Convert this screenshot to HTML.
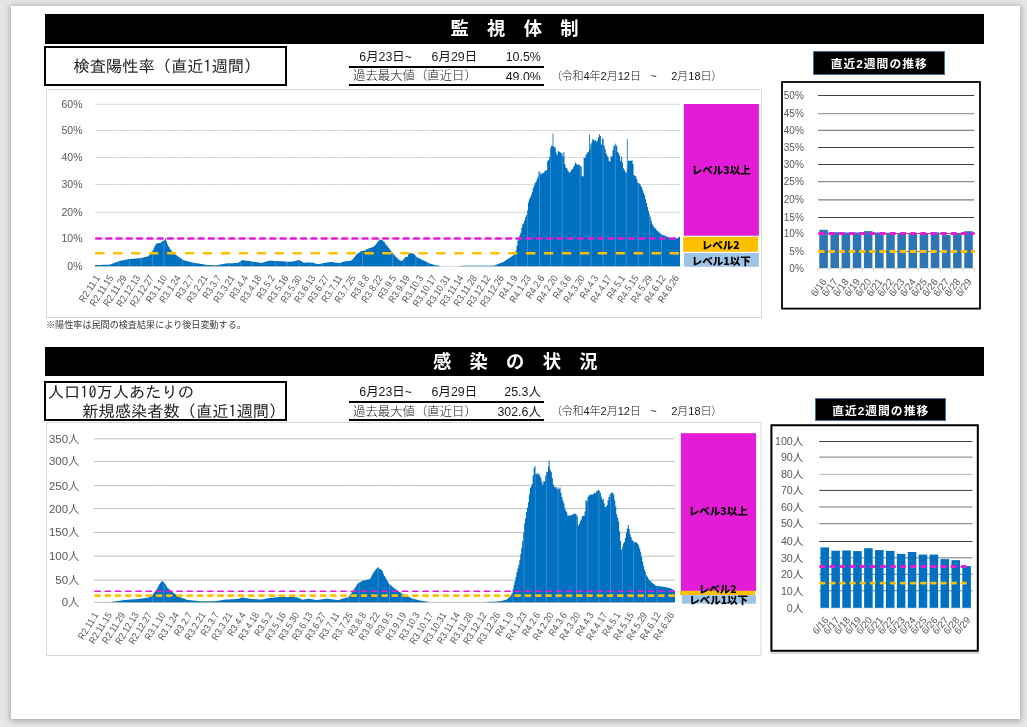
<!DOCTYPE html>
<html lang="ja"><head><meta charset="utf-8"><title>監視体制・感染の状況</title>
<style>
html,body{margin:0;padding:0}
body{width:1027px;height:727px;overflow:hidden;background:#e6e6e6;position:relative;font-family:"Liberation Sans","Noto Sans CJK JP",sans-serif;color:#000}
#page{position:absolute;left:11px;top:6px;width:1009px;height:713px;background:#fff;box-shadow:0 1px 6px 1px rgba(0,0,0,.28)}
.bar{position:absolute;left:45px;width:939px;height:30px;background:#000;color:#fff;font-weight:bold;font-size:18.3px;text-align:center;line-height:30px;white-space:pre}
.box{position:absolute;left:44px;width:239px;border:2px solid #000;box-sizing:content-box;background:#fff;font-family:"IPAGothic","Noto Sans CJK JP",sans-serif;font-size:16.25px;color:#222;white-space:pre}
.t{position:absolute;font-size:12.4px;line-height:14px;white-space:pre;color:#1a1a1a}
.p{font-size:11px;font-feature-settings:'palt' 1;font-weight:300}
.w3{font-weight:300}
.hl{position:absolute;left:348.5px;width:195.5px;height:2px;background:#000}
.lab{position:absolute;background:#000;color:#fff;font-weight:bold;font-size:11.8px;letter-spacing:1px;text-indent:1px;text-align:center;border:1px solid #41719c;box-sizing:border-box;white-space:pre}
.note{position:absolute;left:46px;top:318.5px;font-size:9.1px;line-height:13px;color:#3a3a3a;white-space:pre}
</style></head><body>
<div id="page"></div>
<div class="bar" style="top:14px">監　視　体　制</div>
<div class="bar" style="top:347px;height:29px;line-height:30.5px;text-indent:1.5px">感　染　の　状　況</div>
<svg width="1027" height="727" viewBox="0 0 1027 727" style="position:absolute;left:0;top:0" font-family="'Liberation Sans', 'Noto Sans CJK JP', sans-serif">
<rect x="46.5" y="89.5" width="715" height="228" fill="#fff" stroke="#d9d9d9" stroke-width="1"/>
<line x1="95" x2="680" y1="104.3" y2="104.3" stroke="#d9d9d9" stroke-width="1"/>
<text x="82.5" y="108.1" font-size="10.5" fill="#595959" text-anchor="end">60%</text>
<line x1="95" x2="680" y1="130.5" y2="130.5" stroke="#d9d9d9" stroke-width="1"/>
<text x="82.5" y="134.3" font-size="10.5" fill="#595959" text-anchor="end">50%</text>
<line x1="95" x2="680" y1="157.5" y2="157.5" stroke="#d9d9d9" stroke-width="1"/>
<text x="82.5" y="161.3" font-size="10.5" fill="#595959" text-anchor="end">40%</text>
<line x1="95" x2="680" y1="184.5" y2="184.5" stroke="#d9d9d9" stroke-width="1"/>
<text x="82.5" y="188.3" font-size="10.5" fill="#595959" text-anchor="end">30%</text>
<line x1="95" x2="680" y1="212.2" y2="212.2" stroke="#d9d9d9" stroke-width="1"/>
<text x="82.5" y="216.0" font-size="10.5" fill="#595959" text-anchor="end">20%</text>
<line x1="95" x2="680" y1="238.6" y2="238.6" stroke="#d9d9d9" stroke-width="1"/>
<text x="82.5" y="242.4" font-size="10.5" fill="#595959" text-anchor="end">10%</text>
<line x1="95" x2="680" y1="266.3" y2="266.3" stroke="#d9d9d9" stroke-width="1"/>
<text x="82.5" y="270.1" font-size="10.5" fill="#595959" text-anchor="end">0%</text>
<path d="M95.00,266.30V265.02H95.96V265.00H96.92V264.98H97.88V264.96H98.84V264.95H99.80V264.93H100.76V264.91H101.72V264.89H102.68V264.87H103.64V264.85H104.60V264.83H105.56V264.81H106.52V264.79H107.48V264.77H108.44V264.75H109.40V264.59H110.36V264.22H111.32V263.86H112.28V263.49H113.24V263.13H114.20V262.76H115.16V262.40H116.12V262.03H117.08V261.67H118.04V261.30H119.00V260.99H119.96V260.80H120.92V260.60H121.88V260.41H122.84V260.22H123.80V260.03H124.76V259.84H125.72V259.64H126.68V259.45H127.64V259.26H128.60V259.08H129.56V259.00H130.52V258.92H131.48V258.84H132.44V258.76H133.40V258.68H134.36V258.60H135.32V258.52H136.28V258.44H137.24V258.36H138.20V258.28H139.16V258.20H140.12V258.12H141.08V257.89H142.04V257.65H143.00V257.41H143.96V257.17H144.92V256.93H145.88V256.69H146.84V256.45H147.80V256.21H148.76V255.15H149.72V254.00H150.68V252.87H151.64V251.50H152.60V249.95H153.56V247.84H154.52V246.01H155.48V244.26H156.44V243.37H157.40V243.44H158.36V243.03H159.32V243.04H160.28V242.84H161.24V242.03H162.20V240.95H163.16V240.55H164.12V239.66H165.08V238.56H166.04V241.18H167.00V244.21H167.96V246.33H168.92V247.51H169.88V249.34H170.84V250.46H171.80V251.79H172.76V252.63H173.72V253.43H174.68V254.17H175.64V254.91H176.60V255.71H177.56V256.44H178.52V257.08H179.48V257.72H180.44V258.36H181.40V259.00H182.36V259.64H183.32V260.15H184.28V260.40H185.24V260.65H186.20V260.90H187.16V261.15H188.12V261.40H189.08V261.65H190.04V261.90H191.00V262.15H191.96V262.40H192.92V262.63H193.88V262.80H194.84V262.96H195.80V263.13H196.76V263.29H197.72V263.45H198.68V263.62H199.64V263.78H200.60V263.95H201.56V264.11H202.52V264.28H203.48V264.44H204.44V264.61H205.40V264.77H206.36V264.94H207.32V264.97H208.28V265.01H209.24V265.05H210.20V265.09H211.16V265.13H212.12V265.17H213.08V265.21H214.04V265.24H215.00V265.28H215.96V265.32H216.92V265.16H217.88V264.97H218.84V264.78H219.80V264.59H220.76V264.39H221.72V264.20H222.68V264.01H223.64V263.82H224.60V263.63H225.56V263.43H226.52V263.36H227.48V263.32H228.44V263.29H229.40V263.26H230.36V263.23H231.32V263.20H232.28V263.16H233.24V263.13H234.20V263.10H235.16V263.07H236.12V263.04H237.08V263.00H238.04V262.60H239.00V261.88H239.96V261.16H240.92V260.44H241.88V260.13H242.84V260.27H243.80V260.40H244.76V260.54H245.72V260.67H246.68V260.80H247.64V260.94H248.60V261.07H249.56V261.21H250.52V261.34H251.48V261.48H252.44V261.64H253.40V261.79H254.36V261.94H255.32V262.10H256.28V262.25H257.24V262.40H258.20V262.56H259.16V262.71H260.12V262.87H261.08V262.93H262.04V262.65H263.00V262.36H263.96V262.07H264.92V261.78H265.88V261.49H266.84V261.21H267.80V260.92H268.76V260.66H269.72V260.70H270.68V260.75H271.64V260.80H272.60V260.85H273.56V260.90H274.52V260.94H275.48V260.99H276.44V261.04H277.40V261.09H278.36V261.14H279.32V261.18H280.28V261.23H281.24V261.28H282.20V261.33H283.16V261.38H284.12V261.42H285.08V261.61H286.04V261.80H287.00V261.77H287.96V261.73H288.92V261.70H289.88V261.67H290.84V261.64H291.80V261.61H292.76V261.48H293.72V261.23H294.68V260.97H295.64V260.72H296.60V260.46H297.56V260.20H298.52V259.95H299.48V260.32H300.44V260.94H301.40V261.56H302.36V262.19H303.32V262.65H304.28V262.63H305.24V262.60H306.20V262.58H307.16V262.56H308.12V262.53H309.08V262.51H310.04V262.48H311.00V262.46H311.96V262.54H312.92V262.85H313.88V263.16H314.84V263.46H315.80V263.77H316.76V264.08H317.72V264.04H318.68V263.88H319.64V263.72H320.60V263.55H321.56V263.39H322.52V263.23H323.48V263.07H324.44V262.91H325.40V262.75H326.36V262.59H327.32V262.43H328.28V262.26H329.24V262.10H330.20V261.94H331.16V261.95H332.12V262.15H333.08V262.34H334.04V262.53H335.00V262.64H335.96V262.74H336.92V262.83H337.88V262.93H338.84V263.03H339.80V262.75H340.76V262.46H341.72V262.17H342.68V261.88H343.64V261.61H344.60V261.48H345.56V261.36H346.52V261.23H347.48V261.10H348.44V260.97H349.40V260.84H350.36V260.72H351.32V260.04H352.28V259.22H353.24V258.24H354.20V256.96H355.16V255.68H356.12V254.40H357.08V253.47H358.04V253.02H359.00V252.25H359.96V251.58H360.92V251.02H361.88V250.78H362.84V250.86H363.80V250.77H364.76V250.50H365.72V249.59H366.68V248.98H367.64V248.63H368.60V248.23H369.56V248.00H370.52V247.78H371.48V247.27H372.44V247.02H373.40V246.50H374.36V245.38H375.32V244.44H376.28V243.28H377.24V241.91H378.20V240.73H379.16V239.52H380.12V239.75H381.08V239.96H382.04V240.39H383.00V241.40H383.96V241.94H384.92V243.79H385.88V244.94H386.84V246.10H387.80V247.39H388.76V248.53H389.72V250.04H390.68V251.18H391.64V252.47H392.60V253.59H393.56V254.74H394.52V255.86H395.48V256.89H396.44V257.85H397.40V258.81H398.36V259.77H399.32V260.32H400.28V260.82H401.24V261.32H402.20V260.31H403.16V259.05H404.12V257.78H405.08V257.32H406.04V257.05H407.00V256.78H407.96V252.22H408.92V252.78H409.88V252.88H410.84V253.16H411.80V253.33H412.76V253.85H413.72V254.06H414.68V255.32H415.64V256.52H416.60V257.26H417.56V257.74H418.52V258.22H419.48V258.70H420.44V259.18H421.40V259.66H422.36V260.14H423.32V260.62H424.28V261.10H425.24V261.58H426.20V262.06H427.16V262.54H428.12V263.02H429.08V263.45H430.04V263.74H431.00V264.03H431.96V264.31H432.92V264.60H433.88V264.89H434.84V265.16H435.80V265.31H436.76V265.46H437.72V265.62H438.68V265.77H439.64V265.92H440.60V266.30H441.56V266.30H442.52V266.30H443.48V266.30H444.44V266.30H445.40V266.30H446.36V266.30H447.32V266.30H448.28V266.30H449.24V266.30H450.20V266.30H451.16V266.30H452.12V266.30H453.08V266.30H454.04V266.30H455.00V266.30H455.96V266.30H456.92V266.30H457.88V266.30H458.84V265.95H459.80V265.92H460.76V265.89H461.72V265.87H462.68V265.87H463.64V265.87H464.60V265.87H465.56V265.87H466.52V265.87H467.48V265.87H468.44V265.87H469.40V265.87H470.36V265.87H471.32V265.87H472.28V265.87H473.24V265.87H474.20V265.87H475.16V265.87H476.12V265.87H477.08V265.87H478.04V265.87H479.00V265.87H479.96V265.87H480.92V265.87H481.88V265.87H482.84V265.87H483.80V265.87H484.76V265.87H485.72V265.87H486.68V265.87H487.64V265.87H488.60V265.87H489.56V265.87H490.52V265.82H491.48V265.77H492.44V265.72H493.40V265.67H494.36V265.37H495.32V264.92H496.28V264.49H497.24V264.13H498.20V263.77H499.16V263.41H500.12V263.05H501.08V262.69H502.04V262.33H503.00V261.89H503.96V261.25H504.92V260.61H505.88V259.97H506.84V259.33H507.80V258.69H508.76V258.05H509.72V257.41H510.68V256.77H511.64V256.13H512.60V255.48H513.56V254.52H514.52V253.52H515.48V250.77H516.44V245.72H517.40V240.74H518.36V237.86H519.32V235.19H520.28V232.82H521.24V227.98H522.20V224.52H523.16V223.15H524.12V220.58H525.08V216.96H526.04V215.33H527.00V210.14H527.96V202.41H528.92V199.25H529.88V197.22H530.84V194.69H531.80V192.23H532.76V188.09H533.72V185.41H534.68V183.00H535.64V181.87H536.60V179.35H537.56V176.64H538.52V171.30H539.48V172.25H540.44V174.41H541.40V173.54H542.36V173.10H543.32V172.77H544.28V171.21H545.24V170.37H546.20V170.38H547.16V161.20H548.12V159.90H549.08V156.64H550.04V148.05H551.00V145.74H551.96V145.70H552.92V146.58H553.88V147.07H554.84V147.84H555.80V152.67H556.76V155.20H557.72V150.66H558.68V151.84H559.64V152.05H560.60V153.16H561.56V153.24H562.52V155.94H563.48V152.04H564.44V163.89H565.40V167.58H566.36V167.94H567.32V170.14H568.28V171.83H569.24V172.73H570.20V171.43H571.16V169.83H572.12V169.00H573.08V167.06H574.04V165.34H575.00V162.55H575.96V163.68H576.92V164.97H577.88V164.47H578.84V164.57H579.80V166.13H580.76V166.19H581.72V175.99H582.68V176.54H583.64V157.77H584.60V158.02H585.56V155.00H586.52V153.35H587.48V151.92H588.44V151.37H589.40V149.00H590.36V144.15H591.32V142.11H592.28V138.87H593.24V139.72H594.20V140.64H595.16V140.08H596.12V141.91H597.08V140.39H598.04V137.31H599.00V134.33H599.96V135.97H600.92V144.48H601.88V138.36H602.84V139.37H603.80V145.40H604.76V149.20H605.72V153.34H606.68V155.38H607.64V156.89H608.60V160.67H609.56V161.77H610.52V156.42H611.48V156.22H612.44V149.97H613.40V146.13H614.36V144.77H615.32V143.39H616.28V146.07H617.24V151.85H618.20V153.28H619.16V155.57H620.12V161.03H621.08V156.64H622.04V162.67H623.00V168.21H623.96V169.96H624.92V171.76H625.88V172.64H626.84V168.98H627.80V160.76H628.76V160.75H629.72V160.82H630.68V160.81H631.64V160.22H632.60V163.98H633.56V174.96H634.52V176.14H635.48V176.17H636.44V179.28H637.40V182.66H638.36V182.94H639.32V183.90H640.28V185.60H641.24V187.35H642.20V189.78H643.16V192.74H644.12V195.04H645.08V199.36H646.04V202.96H647.00V206.98H647.96V210.67H648.92V213.53H649.88V216.63H650.84V220.76H651.80V223.78H652.76V225.80H653.72V227.60H654.68V228.01H655.64V229.21H656.60V230.84H657.56V231.22H658.52V232.06H659.48V233.21H660.44V233.93H661.40V234.25H662.36V235.05H663.32V235.61H664.28V235.39H665.24V236.10H666.20V236.67H667.16V236.87H668.12V237.60H669.08V237.62H670.04V237.98H671.00V238.62H671.96V238.67H672.92V238.72H673.88V238.83H674.84V238.68H675.80V238.97H676.76V238.20H677.72V237.73H678.68V236.78H679.64V236.92H680.00V266.30Z" fill="#0070c0"/>
<rect x="552.5" y="133.4" width="1" height="40" fill="#0070c0" fill-opacity="0.8"/>
<rect x="589" y="134.4" width="1" height="40" fill="#0070c0" fill-opacity="0.8"/>
<rect x="626.8" y="139" width="1" height="40" fill="#0070c0" fill-opacity="0.8"/>
<line x1="118.8" x2="118.8" y1="120" y2="266.3" stroke="#fff" stroke-opacity="0.28" stroke-width="0.8"/>
<line x1="129.5" x2="129.5" y1="120" y2="266.3" stroke="#fff" stroke-opacity="0.28" stroke-width="0.8"/>
<line x1="141.2" x2="141.2" y1="120" y2="266.3" stroke="#fff" stroke-opacity="0.28" stroke-width="0.8"/>
<line x1="152.7" x2="152.7" y1="120" y2="266.3" stroke="#fff" stroke-opacity="0.28" stroke-width="0.8"/>
<line x1="164" x2="164" y1="120" y2="266.3" stroke="#fff" stroke-opacity="0.28" stroke-width="0.8"/>
<line x1="182.5" x2="182.5" y1="120" y2="266.3" stroke="#fff" stroke-opacity="0.28" stroke-width="0.8"/>
<line x1="194" x2="194" y1="120" y2="266.3" stroke="#fff" stroke-opacity="0.28" stroke-width="0.8"/>
<line x1="205.7" x2="205.7" y1="120" y2="266.3" stroke="#fff" stroke-opacity="0.28" stroke-width="0.8"/>
<line x1="217.3" x2="217.3" y1="120" y2="266.3" stroke="#fff" stroke-opacity="0.28" stroke-width="0.8"/>
<line x1="229" x2="229" y1="120" y2="266.3" stroke="#fff" stroke-opacity="0.28" stroke-width="0.8"/>
<line x1="240.7" x2="240.7" y1="120" y2="266.3" stroke="#fff" stroke-opacity="0.28" stroke-width="0.8"/>
<line x1="252.3" x2="252.3" y1="120" y2="266.3" stroke="#fff" stroke-opacity="0.28" stroke-width="0.8"/>
<line x1="264" x2="264" y1="120" y2="266.3" stroke="#fff" stroke-opacity="0.28" stroke-width="0.8"/>
<line x1="275.7" x2="275.7" y1="120" y2="266.3" stroke="#fff" stroke-opacity="0.28" stroke-width="0.8"/>
<line x1="287.3" x2="287.3" y1="120" y2="266.3" stroke="#fff" stroke-opacity="0.28" stroke-width="0.8"/>
<line x1="299" x2="299" y1="120" y2="266.3" stroke="#fff" stroke-opacity="0.28" stroke-width="0.8"/>
<line x1="310.7" x2="310.7" y1="120" y2="266.3" stroke="#fff" stroke-opacity="0.28" stroke-width="0.8"/>
<line x1="322.3" x2="322.3" y1="120" y2="266.3" stroke="#fff" stroke-opacity="0.28" stroke-width="0.8"/>
<line x1="339.3" x2="339.3" y1="120" y2="266.3" stroke="#fff" stroke-opacity="0.28" stroke-width="0.8"/>
<line x1="362.5" x2="362.5" y1="120" y2="266.3" stroke="#fff" stroke-opacity="0.28" stroke-width="0.8"/>
<line x1="392.5" x2="392.5" y1="120" y2="266.3" stroke="#fff" stroke-opacity="0.28" stroke-width="0.8"/>
<line x1="404.2" x2="404.2" y1="120" y2="266.3" stroke="#fff" stroke-opacity="0.28" stroke-width="0.8"/>
<line x1="415.9" x2="415.9" y1="120" y2="266.3" stroke="#fff" stroke-opacity="0.28" stroke-width="0.8"/>
<line x1="427.6" x2="427.6" y1="120" y2="266.3" stroke="#fff" stroke-opacity="0.28" stroke-width="0.8"/>
<line x1="515.8" x2="515.8" y1="120" y2="266.3" stroke="#fff" stroke-opacity="0.28" stroke-width="0.8"/>
<line x1="527.6" x2="527.6" y1="120" y2="266.3" stroke="#fff" stroke-opacity="0.28" stroke-width="0.8"/>
<line x1="539.5" x2="539.5" y1="120" y2="266.3" stroke="#fff" stroke-opacity="0.28" stroke-width="0.8"/>
<line x1="550.5" x2="550.5" y1="120" y2="266.3" stroke="#fff" stroke-opacity="0.28" stroke-width="0.8"/>
<line x1="562.2" x2="562.2" y1="120" y2="266.3" stroke="#fff" stroke-opacity="0.28" stroke-width="0.8"/>
<line x1="580.2" x2="580.2" y1="120" y2="266.3" stroke="#fff" stroke-opacity="0.28" stroke-width="0.8"/>
<line x1="591.1" x2="591.1" y1="120" y2="266.3" stroke="#fff" stroke-opacity="0.28" stroke-width="0.8"/>
<line x1="603.1" x2="603.1" y1="120" y2="266.3" stroke="#fff" stroke-opacity="0.28" stroke-width="0.8"/>
<line x1="615.3" x2="615.3" y1="120" y2="266.3" stroke="#fff" stroke-opacity="0.28" stroke-width="0.8"/>
<line x1="626.2" x2="626.2" y1="120" y2="266.3" stroke="#fff" stroke-opacity="0.28" stroke-width="0.8"/>
<line x1="638.2" x2="638.2" y1="120" y2="266.3" stroke="#fff" stroke-opacity="0.28" stroke-width="0.8"/>
<line x1="649.6" x2="649.6" y1="120" y2="266.3" stroke="#fff" stroke-opacity="0.28" stroke-width="0.8"/>
<line x1="661.5" x2="661.5" y1="120" y2="266.3" stroke="#fff" stroke-opacity="0.28" stroke-width="0.8"/>
<line x1="96.25" x2="679" y1="238.5" y2="238.5" stroke="#e41bd7" stroke-width="2.7" stroke-linecap="round" stroke-dasharray="4.7 5.55"/>
<line x1="96.2" x2="678.5" y1="253.2" y2="253.2" stroke="#ffc000" stroke-width="2.6" stroke-linecap="round" stroke-dasharray="7.3 10.65"/>
<text transform="translate(100.30,277.9) rotate(-57) scale(0.89,1)" font-size="9.8" fill="#595959" text-anchor="end">R2.11.1</text>
<text transform="translate(113.77,277.9) rotate(-57) scale(0.89,1)" font-size="9.8" fill="#595959" text-anchor="end">R2.11.15</text>
<text transform="translate(127.24,277.9) rotate(-57) scale(0.89,1)" font-size="9.8" fill="#595959" text-anchor="end">R2.11.29</text>
<text transform="translate(140.71,277.9) rotate(-57) scale(0.89,1)" font-size="9.8" fill="#595959" text-anchor="end">R2.12.13</text>
<text transform="translate(154.18,277.9) rotate(-57) scale(0.89,1)" font-size="9.8" fill="#595959" text-anchor="end">R2.12.27</text>
<text transform="translate(167.65,277.9) rotate(-57) scale(0.89,1)" font-size="9.8" fill="#595959" text-anchor="end">R3.1.10</text>
<text transform="translate(181.12,277.9) rotate(-57) scale(0.89,1)" font-size="9.8" fill="#595959" text-anchor="end">R3.1.24</text>
<text transform="translate(194.59,277.9) rotate(-57) scale(0.89,1)" font-size="9.8" fill="#595959" text-anchor="end">R3.2.7</text>
<text transform="translate(208.06,277.9) rotate(-57) scale(0.89,1)" font-size="9.8" fill="#595959" text-anchor="end">R3.2.21</text>
<text transform="translate(221.53,277.9) rotate(-57) scale(0.89,1)" font-size="9.8" fill="#595959" text-anchor="end">R3.3.7</text>
<text transform="translate(235.00,277.9) rotate(-57) scale(0.89,1)" font-size="9.8" fill="#595959" text-anchor="end">R3.3.21</text>
<text transform="translate(248.47,277.9) rotate(-57) scale(0.89,1)" font-size="9.8" fill="#595959" text-anchor="end">R3.4.4</text>
<text transform="translate(261.94,277.9) rotate(-57) scale(0.89,1)" font-size="9.8" fill="#595959" text-anchor="end">R3.4.18</text>
<text transform="translate(275.41,277.9) rotate(-57) scale(0.89,1)" font-size="9.8" fill="#595959" text-anchor="end">R3.5.2</text>
<text transform="translate(288.88,277.9) rotate(-57) scale(0.89,1)" font-size="9.8" fill="#595959" text-anchor="end">R3.5.16</text>
<text transform="translate(302.35,277.9) rotate(-57) scale(0.89,1)" font-size="9.8" fill="#595959" text-anchor="end">R3.5.30</text>
<text transform="translate(315.82,277.9) rotate(-57) scale(0.89,1)" font-size="9.8" fill="#595959" text-anchor="end">R3.6.13</text>
<text transform="translate(329.29,277.9) rotate(-57) scale(0.89,1)" font-size="9.8" fill="#595959" text-anchor="end">R3.6.27</text>
<text transform="translate(342.76,277.9) rotate(-57) scale(0.89,1)" font-size="9.8" fill="#595959" text-anchor="end">R3.7.11</text>
<text transform="translate(356.23,277.9) rotate(-57) scale(0.89,1)" font-size="9.8" fill="#595959" text-anchor="end">R3.7.25</text>
<text transform="translate(369.70,277.9) rotate(-57) scale(0.89,1)" font-size="9.8" fill="#595959" text-anchor="end">R3.8.8</text>
<text transform="translate(383.17,277.9) rotate(-57) scale(0.89,1)" font-size="9.8" fill="#595959" text-anchor="end">R3.8.22</text>
<text transform="translate(396.64,277.9) rotate(-57) scale(0.89,1)" font-size="9.8" fill="#595959" text-anchor="end">R3.9.5</text>
<text transform="translate(410.11,277.9) rotate(-57) scale(0.89,1)" font-size="9.8" fill="#595959" text-anchor="end">R3.9.19</text>
<text transform="translate(423.58,277.9) rotate(-57) scale(0.89,1)" font-size="9.8" fill="#595959" text-anchor="end">R3.10.3</text>
<text transform="translate(437.05,277.9) rotate(-57) scale(0.89,1)" font-size="9.8" fill="#595959" text-anchor="end">R3.10.17</text>
<text transform="translate(450.52,277.9) rotate(-57) scale(0.89,1)" font-size="9.8" fill="#595959" text-anchor="end">R3.10.31</text>
<text transform="translate(463.99,277.9) rotate(-57) scale(0.89,1)" font-size="9.8" fill="#595959" text-anchor="end">R3.11.14</text>
<text transform="translate(477.46,277.9) rotate(-57) scale(0.89,1)" font-size="9.8" fill="#595959" text-anchor="end">R3.11.28</text>
<text transform="translate(490.93,277.9) rotate(-57) scale(0.89,1)" font-size="9.8" fill="#595959" text-anchor="end">R3.12.12</text>
<text transform="translate(504.40,277.9) rotate(-57) scale(0.89,1)" font-size="9.8" fill="#595959" text-anchor="end">R3.12.26</text>
<text transform="translate(517.87,277.9) rotate(-57) scale(0.89,1)" font-size="9.8" fill="#595959" text-anchor="end">R4.1.9</text>
<text transform="translate(531.34,277.9) rotate(-57) scale(0.89,1)" font-size="9.8" fill="#595959" text-anchor="end">R4.1.23</text>
<text transform="translate(544.81,277.9) rotate(-57) scale(0.89,1)" font-size="9.8" fill="#595959" text-anchor="end">R4.2.6</text>
<text transform="translate(558.28,277.9) rotate(-57) scale(0.89,1)" font-size="9.8" fill="#595959" text-anchor="end">R4.2.20</text>
<text transform="translate(571.75,277.9) rotate(-57) scale(0.89,1)" font-size="9.8" fill="#595959" text-anchor="end">R4.3.6</text>
<text transform="translate(585.22,277.9) rotate(-57) scale(0.89,1)" font-size="9.8" fill="#595959" text-anchor="end">R4.3.20</text>
<text transform="translate(598.69,277.9) rotate(-57) scale(0.89,1)" font-size="9.8" fill="#595959" text-anchor="end">R4.4.3</text>
<text transform="translate(612.16,277.9) rotate(-57) scale(0.89,1)" font-size="9.8" fill="#595959" text-anchor="end">R4.4.17</text>
<text transform="translate(625.63,277.9) rotate(-57) scale(0.89,1)" font-size="9.8" fill="#595959" text-anchor="end">R4.5.1</text>
<text transform="translate(639.10,277.9) rotate(-57) scale(0.89,1)" font-size="9.8" fill="#595959" text-anchor="end">R4.5.15</text>
<text transform="translate(652.57,277.9) rotate(-57) scale(0.89,1)" font-size="9.8" fill="#595959" text-anchor="end">R4.5.29</text>
<text transform="translate(666.04,277.9) rotate(-57) scale(0.89,1)" font-size="9.8" fill="#595959" text-anchor="end">R4.6.12</text>
<text transform="translate(679.51,277.9) rotate(-57) scale(0.89,1)" font-size="9.8" fill="#595959" text-anchor="end">R4.6.26</text>
<rect x="683.9" y="104" width="75" height="131.7" fill="#e41bd7"/>
<rect x="683.1" y="236.8" width="75" height="15" fill="#ffc000"/>
<rect x="683.9" y="253.1" width="75" height="13.7" fill="#9dc3e6"/>
<text x="721.3" y="174" font-family="'Noto Sans CJK JP', sans-serif" font-weight="900" font-size="10.5" fill="#000" text-anchor="middle">レベル3以上</text>
<text x="720.8" y="248.9" font-family="'Noto Sans CJK JP', sans-serif" font-weight="900" font-size="10.5" fill="#000" text-anchor="middle">レベル2</text>
<text x="721.3" y="264.7" font-family="'Noto Sans CJK JP', sans-serif" font-weight="900" font-size="10.5" fill="#000" text-anchor="middle">レベル1以下</text>
<rect x="46.5" y="422.5" width="714.5" height="233" fill="#fff" stroke="#d9d9d9" stroke-width="1"/>
<line x1="94" x2="675" y1="438.8" y2="438.8" stroke="#bfbfbf" stroke-width="1"/>
<text x="79.6" y="442.8" font-size="11.5" fill="#595959" text-anchor="end">350人</text>
<line x1="94" x2="675" y1="461.4" y2="461.4" stroke="#bfbfbf" stroke-width="1"/>
<text x="79.6" y="465.4" font-size="11.5" fill="#595959" text-anchor="end">300人</text>
<line x1="94" x2="675" y1="485.6" y2="485.6" stroke="#bfbfbf" stroke-width="1"/>
<text x="79.6" y="489.6" font-size="11.5" fill="#595959" text-anchor="end">250人</text>
<line x1="94" x2="675" y1="508.6" y2="508.6" stroke="#bfbfbf" stroke-width="1"/>
<text x="79.6" y="512.6" font-size="11.5" fill="#595959" text-anchor="end">200人</text>
<line x1="94" x2="675" y1="532.4" y2="532.4" stroke="#bfbfbf" stroke-width="1"/>
<text x="79.6" y="536.4" font-size="11.5" fill="#595959" text-anchor="end">150人</text>
<line x1="94" x2="675" y1="556.2" y2="556.2" stroke="#bfbfbf" stroke-width="1"/>
<text x="79.6" y="560.2" font-size="11.5" fill="#595959" text-anchor="end">100人</text>
<line x1="94" x2="675" y1="580.2" y2="580.2" stroke="#bfbfbf" stroke-width="1"/>
<text x="79.6" y="584.2" font-size="11.5" fill="#595959" text-anchor="end">50人</text>
<line x1="94" x2="675" y1="602.3" y2="602.3" stroke="#bfbfbf" stroke-width="1"/>
<text x="79.6" y="606.3" font-size="11.5" fill="#595959" text-anchor="end">0人</text>
<path d="M94.00,602.30V602.30H94.96V602.30H95.92V602.30H96.88V602.30H97.84V602.30H98.80V602.30H99.76V602.30H100.72V602.30H101.68V602.30H102.64V602.30H103.60V602.30H104.56V602.30H105.52V602.30H106.48V602.30H107.44V602.30H108.40V602.30H109.36V602.30H110.32V602.30H111.28V601.91H112.24V601.77H113.20V601.63H114.16V601.49H115.12V601.35H116.08V601.21H117.04V601.07H118.00V600.93H118.96V600.79H119.92V600.65H120.88V600.50H121.84V600.36H122.80V600.22H123.76V600.08H124.72V599.95H125.68V599.88H126.64V599.82H127.60V599.75H128.56V599.68H129.52V599.61H130.48V599.54H131.44V599.47H132.40V599.40H133.36V599.34H134.32V599.27H135.28V599.20H136.24V599.13H137.20V599.06H138.16V598.99H139.12V598.86H140.08V598.73H141.04V598.59H142.00V598.46H142.96V598.32H143.92V598.19H144.88V598.05H145.84V597.92H146.80V597.79H147.76V597.65H148.72V597.12H149.68V596.50H150.64V595.87H151.60V595.25H152.56V594.19H153.52V592.99H154.48V591.79H155.44V590.59H156.40V589.07H157.36V587.35H158.32V585.54H159.28V584.05H160.24V582.55H161.20V581.71H162.16V581.06H163.12V582.02H164.08V583.22H165.04V584.34H166.00V586.04H166.96V587.69H167.92V588.60H168.88V589.60H169.84V590.31H170.80V591.10H171.76V591.90H172.72V592.70H173.68V593.43H174.64V594.07H175.60V594.71H176.56V595.35H177.52V595.99H178.48V596.63H179.44V597.17H180.40V597.53H181.36V597.89H182.32V598.25H183.28V598.61H184.24V598.97H185.20V599.33H186.16V599.69H187.12V599.99H188.08V600.08H189.04V600.18H190.00V600.27H190.96V600.37H191.92V600.47H192.88V600.56H193.84V600.66H194.80V600.75H195.76V600.85H196.72V600.95H197.68V601.04H198.64V601.13H199.60V601.13H200.56V601.13H201.52V601.13H202.48V601.13H203.44V601.13H204.40V601.13H205.36V601.13H206.32V601.13H207.28V601.13H208.24V601.13H209.20V601.13H210.16V601.13H211.12V601.13H212.08V601.13H213.04V601.13H214.00V601.13H214.96V601.02H215.92V600.90H216.88V600.77H217.84V600.64H218.80V600.51H219.76V600.38H220.72V600.26H221.68V600.13H222.64V600.00H223.60V599.87H224.56V599.74H225.52V599.62H226.48V599.54H227.44V599.49H228.40V599.45H229.36V599.40H230.32V599.35H231.28V599.30H232.24V599.25H233.20V599.21H234.16V599.16H235.12V599.11H236.08V599.06H237.04V599.01H238.00V598.80H238.96V598.41H239.92V598.03H240.88V597.65H241.84V597.50H242.80V597.65H243.76V597.81H244.72V597.96H245.68V598.11H246.64V598.27H247.60V598.42H248.56V598.57H249.52V598.73H250.48V598.88H251.44V599.01H252.40V599.06H253.36V599.12H254.32V599.18H255.28V599.24H256.24V599.29H257.20V599.35H258.16V599.41H259.12V599.47H260.08V599.52H261.04V599.54H262.00V599.35H262.96V599.16H263.92V598.97H264.88V598.78H265.84V598.58H266.80V598.39H267.76V598.20H268.72V598.01H269.68V597.92H270.64V597.82H271.60V597.72H272.56V597.63H273.52V597.53H274.48V597.44H275.44V597.34H276.40V597.24H277.36V597.15H278.32V597.05H279.28V597.03H280.24V597.02H281.20V597.01H282.16V597.00H283.12V596.99H284.08V596.98H285.04V596.98H286.00V596.97H286.96V596.96H287.92V596.95H288.88V596.71H289.84V596.80H290.80V596.88H291.76V596.96H292.72V597.04H293.68V597.12H294.64V597.20H295.60V597.28H296.56V597.36H297.52V597.75H298.48V598.17H299.44V598.60H300.40V599.02H301.36V599.44H302.32V599.68H303.28V599.52H304.24V599.36H305.20V599.20H306.16V599.04H307.12V598.88H308.08V598.72H309.04V598.78H310.00V598.97H310.96V599.16H311.92V599.35H312.88V599.55H313.84V599.74H314.80V599.93H315.76V600.12H316.72V600.04H317.68V599.89H318.64V599.74H319.60V599.59H320.56V599.44H321.52V599.29H322.48V599.14H323.44V598.99H324.40V598.84H325.36V598.69H326.32V598.75H327.28V598.87H328.24V599.00H329.20V599.12H330.16V599.24H331.12V599.36H332.08V599.49H333.04V599.61H334.00V599.73H334.96V599.85H335.92V599.97H336.88V600.10H337.84V600.01H338.80V599.73H339.76V599.44H340.72V599.15H341.68V598.86H342.64V598.57H343.60V598.29H344.56V598.00H345.52V597.71H346.48V597.42H347.44V597.13H348.40V596.48H349.36V595.14H350.32V593.80H351.28V592.45H352.24V591.11H353.20V589.70H354.16V588.33H355.12V586.97H356.08V585.46H357.04V584.00H358.00V582.74H358.96V582.58H359.92V581.89H360.88V581.56H361.84V581.07H362.80V580.55H363.76V580.47H364.72V580.22H365.68V579.90H366.64V579.59H367.60V579.63H368.56V579.32H369.52V579.11H370.48V577.33H371.44V575.44H372.40V573.82H373.36V571.99H374.32V570.71H375.28V569.39H376.24V568.62H377.20V567.50H378.16V567.42H379.12V568.71H380.08V569.20H381.04V569.64H382.00V571.36H382.96V573.78H383.92V575.70H384.88V577.31H385.84V579.20H386.80V580.77H387.76V582.52H388.72V583.92H389.68V584.73H390.64V585.49H391.60V586.58H392.56V587.17H393.52V587.99H394.48V588.96H395.44V589.48H396.40V590.06H397.36V590.80H398.32V591.40H399.28V592.00H400.24V592.60H401.20V593.20H402.16V593.80H403.12V594.40H404.08V594.94H405.04V595.37H406.00V595.81H406.96V596.24H407.92V596.67H408.88V597.10H409.84V597.53H410.80V597.97H411.76V598.40H412.72V598.75H413.68V598.99H414.64V599.23H415.60V599.47H416.56V599.71H417.52V599.95H418.48V600.19H419.44V600.43H420.40V600.67H421.36V600.87H422.32V601.01H423.28V601.16H424.24V601.30H425.20V601.44H426.16V601.59H427.12V601.73H428.08V601.88H429.04V602.30H430.00V602.30H430.96V602.30H431.92V602.30H432.88V602.30H433.84V602.30H434.80V602.30H435.76V602.30H436.72V602.30H437.68V602.30H438.64V602.30H439.60V602.30H440.56V602.30H441.52V602.30H442.48V602.30H443.44V602.30H444.40V602.30H445.36V602.30H446.32V602.30H447.28V602.30H448.24V602.30H449.20V602.30H450.16V602.30H451.12V602.30H452.08V602.30H453.04V602.30H454.00V602.30H454.96V602.30H455.92V602.30H456.88V602.30H457.84V602.30H458.80V602.30H459.76V602.30H460.72V602.30H461.68V602.30H462.64V602.30H463.60V602.30H464.56V602.30H465.52V602.30H466.48V602.30H467.44V602.30H468.40V602.30H469.36V602.30H470.32V602.30H471.28V602.30H472.24V602.30H473.20V602.30H474.16V602.30H475.12V602.30H476.08V602.30H477.04V602.30H478.00V602.30H478.96V602.30H479.92V602.30H480.88V602.30H481.84V602.30H482.80V602.30H483.76V602.30H484.72V602.30H485.68V601.95H486.64V601.92H487.60V601.89H488.56V601.87H489.52V601.84H490.48V601.81H491.44V601.77H492.40V601.74H493.36V601.71H494.32V601.68H495.28V601.62H496.24V601.51H497.20V601.40H498.16V601.29H499.12V601.18H500.08V601.07H501.04V600.96H502.00V600.81H502.96V600.57H503.92V600.33H504.88V600.09H505.84V599.70H506.80V598.99H507.76V598.29H508.72V597.51H509.68V596.55H510.64V595.20H511.60V592.96H512.56V589.27H513.52V584.93H514.48V581.33H515.44V576.94H516.40V572.29H517.36V568.53H518.32V565.26H519.28V560.49H520.24V554.00H521.20V547.83H522.16V541.11H523.12V532.42H524.08V523.15H525.04V518.48H526.00V511.92H526.96V507.38H527.92V502.20H528.88V494.44H529.84V487.70H530.80V486.57H531.76V483.74H532.72V475.31H533.68V467.85H534.64V466.04H535.60V473.92H536.56V473.42H537.52V474.59H538.48V473.27H539.44V475.79H540.40V477.77H541.36V481.72H542.32V484.78H543.28V481.33H544.24V481.52H545.20V475.44H546.16V471.79H547.12V471.75H548.08V466.29H549.04V468.28H550.00V470.28H550.96V472.30H551.92V478.12H552.88V484.62H553.84V486.62H554.80V487.45H555.76V486.99H556.72V489.22H557.68V487.42H558.64V489.18H559.60V487.45H560.56V492.76H561.52V497.21H562.48V500.83H563.44V503.21H564.40V507.63H565.36V510.69H566.32V512.37H567.28V515.54H568.24V515.69H569.20V515.39H570.16V515.43H571.12V514.92H572.08V514.50H573.04V514.32H574.00V513.16H574.96V514.06H575.92V514.35H576.88V516.25H577.84V525.68H578.80V523.92H579.76V521.24H580.72V519.51H581.68V516.59H582.64V515.68H583.60V515.70H584.56V511.48H585.52V499.98H586.48V501.27H587.44V497.11H588.40V495.49H589.36V495.16H590.32V494.11H591.28V495.08H592.24V494.62H593.20V493.68H594.16V492.42H595.12V493.61H596.08V491.50H597.04V490.72H598.00V489.46H598.96V490.70H599.92V492.76H600.88V496.44H601.84V499.81H602.80V498.38H603.76V503.33H604.72V506.89H605.68V506.63H606.64V504.95H607.60V500.26H608.56V497.00H609.52V494.13H610.48V493.15H611.44V492.30H612.40V493.09H613.36V495.05H614.32V500.51H615.28V506.40H616.24V514.27H617.20V517.77H618.16V521.40H619.12V531.23H620.08V541.01H621.04V549.65H622.00V546.73H622.96V543.38H623.92V541.99H624.88V538.04H625.84V533.10H626.80V528.55H627.76V524.92H628.72V528.89H629.68V534.15H630.64V537.06H631.60V539.73H632.56V540.70H633.52V542.02H634.48V542.18H635.44V541.89H636.40V542.86H637.36V544.06H638.32V545.84H639.28V548.69H640.24V552.18H641.20V556.73H642.16V561.40H643.12V565.85H644.08V569.73H645.04V572.11H646.00V575.37H646.96V576.79H647.92V578.44H648.88V580.15H649.84V580.82H650.80V581.89H651.76V582.96H652.72V583.63H653.68V584.32H654.64V585.32H655.60V585.67H656.56V585.87H657.52V585.94H658.48V586.14H659.44V586.33H660.40V586.58H661.36V586.56H662.32V586.73H663.28V586.82H664.24V587.09H665.20V587.26H666.16V587.38H667.12V587.56H668.08V587.92H669.04V587.94H670.00V588.30H670.96V588.68H671.92V589.32H672.88V589.95H673.84V590.62H674.80V590.97H675.00V602.30Z" fill="#0070c0"/>
<rect x="548.6" y="460.6" width="1.2" height="12" fill="#0070c0" fill-opacity="0.8"/>
<line x1="152.5" x2="152.5" y1="460" y2="602.3" stroke="#fff" stroke-opacity="0.25" stroke-width="0.8"/>
<line x1="164" x2="164" y1="460" y2="602.3" stroke="#fff" stroke-opacity="0.25" stroke-width="0.8"/>
<line x1="348.7" x2="348.7" y1="460" y2="602.3" stroke="#fff" stroke-opacity="0.25" stroke-width="0.8"/>
<line x1="359.2" x2="359.2" y1="460" y2="602.3" stroke="#fff" stroke-opacity="0.25" stroke-width="0.8"/>
<line x1="378.1" x2="378.1" y1="460" y2="602.3" stroke="#fff" stroke-opacity="0.25" stroke-width="0.8"/>
<line x1="389.6" x2="389.6" y1="460" y2="602.3" stroke="#fff" stroke-opacity="0.25" stroke-width="0.8"/>
<line x1="401.3" x2="401.3" y1="460" y2="602.3" stroke="#fff" stroke-opacity="0.25" stroke-width="0.8"/>
<line x1="412.4" x2="412.4" y1="460" y2="602.3" stroke="#fff" stroke-opacity="0.25" stroke-width="0.8"/>
<line x1="512.8" x2="512.8" y1="460" y2="602.3" stroke="#fff" stroke-opacity="0.25" stroke-width="0.8"/>
<line x1="524" x2="524" y1="460" y2="602.3" stroke="#fff" stroke-opacity="0.25" stroke-width="0.8"/>
<line x1="535.3" x2="535.3" y1="460" y2="602.3" stroke="#fff" stroke-opacity="0.25" stroke-width="0.8"/>
<line x1="546.4" x2="546.4" y1="460" y2="602.3" stroke="#fff" stroke-opacity="0.25" stroke-width="0.8"/>
<line x1="558" x2="558" y1="460" y2="602.3" stroke="#fff" stroke-opacity="0.25" stroke-width="0.8"/>
<line x1="576.6" x2="576.6" y1="460" y2="602.3" stroke="#fff" stroke-opacity="0.25" stroke-width="0.8"/>
<line x1="587.8" x2="587.8" y1="460" y2="602.3" stroke="#fff" stroke-opacity="0.25" stroke-width="0.8"/>
<line x1="598.9" x2="598.9" y1="460" y2="602.3" stroke="#fff" stroke-opacity="0.25" stroke-width="0.8"/>
<line x1="610.5" x2="610.5" y1="460" y2="602.3" stroke="#fff" stroke-opacity="0.25" stroke-width="0.8"/>
<line x1="622.4" x2="622.4" y1="460" y2="602.3" stroke="#fff" stroke-opacity="0.25" stroke-width="0.8"/>
<line x1="633.6" x2="633.6" y1="460" y2="602.3" stroke="#fff" stroke-opacity="0.25" stroke-width="0.8"/>
<line x1="645.4" x2="645.4" y1="460" y2="602.3" stroke="#fff" stroke-opacity="0.25" stroke-width="0.8"/>
<line x1="657" x2="657" y1="460" y2="602.3" stroke="#fff" stroke-opacity="0.25" stroke-width="0.8"/>
<line x1="94.84" x2="675" y1="591.3" y2="591.3" stroke="#e41bd7" stroke-width="1.6" stroke-linecap="round" stroke-dasharray="5.4 4.85"/>
<line x1="95.44" x2="674.4" y1="595.6" y2="595.6" stroke="#ffc000" stroke-width="2.8" stroke-linecap="round" stroke-dasharray="4.2 6.05"/>
<text transform="translate(98.90,615.0) rotate(-58) scale(0.89,1)" font-size="9.8" fill="#595959" text-anchor="end">R2.11.1</text>
<text transform="translate(112.29,615.0) rotate(-58) scale(0.89,1)" font-size="9.8" fill="#595959" text-anchor="end">R2.11.15</text>
<text transform="translate(125.67,615.0) rotate(-58) scale(0.89,1)" font-size="9.8" fill="#595959" text-anchor="end">R2.11.29</text>
<text transform="translate(139.06,615.0) rotate(-58) scale(0.89,1)" font-size="9.8" fill="#595959" text-anchor="end">R2.12.13</text>
<text transform="translate(152.44,615.0) rotate(-58) scale(0.89,1)" font-size="9.8" fill="#595959" text-anchor="end">R2.12.27</text>
<text transform="translate(165.82,615.0) rotate(-58) scale(0.89,1)" font-size="9.8" fill="#595959" text-anchor="end">R3.1.10</text>
<text transform="translate(179.21,615.0) rotate(-58) scale(0.89,1)" font-size="9.8" fill="#595959" text-anchor="end">R3.1.24</text>
<text transform="translate(192.59,615.0) rotate(-58) scale(0.89,1)" font-size="9.8" fill="#595959" text-anchor="end">R3.2.7</text>
<text transform="translate(205.98,615.0) rotate(-58) scale(0.89,1)" font-size="9.8" fill="#595959" text-anchor="end">R3.2.21</text>
<text transform="translate(219.37,615.0) rotate(-58) scale(0.89,1)" font-size="9.8" fill="#595959" text-anchor="end">R3.3.7</text>
<text transform="translate(232.75,615.0) rotate(-58) scale(0.89,1)" font-size="9.8" fill="#595959" text-anchor="end">R3.3.21</text>
<text transform="translate(246.13,615.0) rotate(-58) scale(0.89,1)" font-size="9.8" fill="#595959" text-anchor="end">R3.4.4</text>
<text transform="translate(259.52,615.0) rotate(-58) scale(0.89,1)" font-size="9.8" fill="#595959" text-anchor="end">R3.4.18</text>
<text transform="translate(272.90,615.0) rotate(-58) scale(0.89,1)" font-size="9.8" fill="#595959" text-anchor="end">R3.5.2</text>
<text transform="translate(286.29,615.0) rotate(-58) scale(0.89,1)" font-size="9.8" fill="#595959" text-anchor="end">R3.5.16</text>
<text transform="translate(299.68,615.0) rotate(-58) scale(0.89,1)" font-size="9.8" fill="#595959" text-anchor="end">R3.5.30</text>
<text transform="translate(313.06,615.0) rotate(-58) scale(0.89,1)" font-size="9.8" fill="#595959" text-anchor="end">R3.6.13</text>
<text transform="translate(326.44,615.0) rotate(-58) scale(0.89,1)" font-size="9.8" fill="#595959" text-anchor="end">R3.6.27</text>
<text transform="translate(339.83,615.0) rotate(-58) scale(0.89,1)" font-size="9.8" fill="#595959" text-anchor="end">R3.7.11</text>
<text transform="translate(353.22,615.0) rotate(-58) scale(0.89,1)" font-size="9.8" fill="#595959" text-anchor="end">R3.7.25</text>
<text transform="translate(366.60,615.0) rotate(-58) scale(0.89,1)" font-size="9.8" fill="#595959" text-anchor="end">R3.8.8</text>
<text transform="translate(379.99,615.0) rotate(-58) scale(0.89,1)" font-size="9.8" fill="#595959" text-anchor="end">R3.8.22</text>
<text transform="translate(393.37,615.0) rotate(-58) scale(0.89,1)" font-size="9.8" fill="#595959" text-anchor="end">R3.9.5</text>
<text transform="translate(406.75,615.0) rotate(-58) scale(0.89,1)" font-size="9.8" fill="#595959" text-anchor="end">R3.9.19</text>
<text transform="translate(420.14,615.0) rotate(-58) scale(0.89,1)" font-size="9.8" fill="#595959" text-anchor="end">R3.10.3</text>
<text transform="translate(433.52,615.0) rotate(-58) scale(0.89,1)" font-size="9.8" fill="#595959" text-anchor="end">R3.10.17</text>
<text transform="translate(446.91,615.0) rotate(-58) scale(0.89,1)" font-size="9.8" fill="#595959" text-anchor="end">R3.10.31</text>
<text transform="translate(460.29,615.0) rotate(-58) scale(0.89,1)" font-size="9.8" fill="#595959" text-anchor="end">R3.11.14</text>
<text transform="translate(473.68,615.0) rotate(-58) scale(0.89,1)" font-size="9.8" fill="#595959" text-anchor="end">R3.11.28</text>
<text transform="translate(487.07,615.0) rotate(-58) scale(0.89,1)" font-size="9.8" fill="#595959" text-anchor="end">R3.12.12</text>
<text transform="translate(500.45,615.0) rotate(-58) scale(0.89,1)" font-size="9.8" fill="#595959" text-anchor="end">R3.12.26</text>
<text transform="translate(513.84,615.0) rotate(-58) scale(0.89,1)" font-size="9.8" fill="#595959" text-anchor="end">R4.1.9</text>
<text transform="translate(527.22,615.0) rotate(-58) scale(0.89,1)" font-size="9.8" fill="#595959" text-anchor="end">R4.1.23</text>
<text transform="translate(540.61,615.0) rotate(-58) scale(0.89,1)" font-size="9.8" fill="#595959" text-anchor="end">R4.2.6</text>
<text transform="translate(553.99,615.0) rotate(-58) scale(0.89,1)" font-size="9.8" fill="#595959" text-anchor="end">R4.2.20</text>
<text transform="translate(567.38,615.0) rotate(-58) scale(0.89,1)" font-size="9.8" fill="#595959" text-anchor="end">R4.3.6</text>
<text transform="translate(580.76,615.0) rotate(-58) scale(0.89,1)" font-size="9.8" fill="#595959" text-anchor="end">R4.3.20</text>
<text transform="translate(594.14,615.0) rotate(-58) scale(0.89,1)" font-size="9.8" fill="#595959" text-anchor="end">R4.4.3</text>
<text transform="translate(607.53,615.0) rotate(-58) scale(0.89,1)" font-size="9.8" fill="#595959" text-anchor="end">R4.4.17</text>
<text transform="translate(620.91,615.0) rotate(-58) scale(0.89,1)" font-size="9.8" fill="#595959" text-anchor="end">R4.5.1</text>
<text transform="translate(634.30,615.0) rotate(-58) scale(0.89,1)" font-size="9.8" fill="#595959" text-anchor="end">R4.5.15</text>
<text transform="translate(647.68,615.0) rotate(-58) scale(0.89,1)" font-size="9.8" fill="#595959" text-anchor="end">R4.5.29</text>
<text transform="translate(661.07,615.0) rotate(-58) scale(0.89,1)" font-size="9.8" fill="#595959" text-anchor="end">R4.6.12</text>
<text transform="translate(674.45,615.0) rotate(-58) scale(0.89,1)" font-size="9.8" fill="#595959" text-anchor="end">R4.6.26</text>
<rect x="680.85" y="433.2" width="75.2" height="157.7" fill="#e41bd7"/>
<rect x="680" y="590.85" width="75" height="4.3" fill="#ffc000"/>
<rect x="681.9" y="595.1" width="74.15" height="8.6" fill="#9dc3e6"/>
<text x="718.2" y="515.4" font-family="'Noto Sans CJK JP', sans-serif" font-weight="900" font-size="10.5" fill="#000" text-anchor="middle">レベル3以上</text>
<text x="717.7" y="593" font-family="'Noto Sans CJK JP', sans-serif" font-weight="900" font-size="10.5" fill="#000" text-anchor="middle">レベル2</text>
<text x="718.6" y="604.3" font-family="'Noto Sans CJK JP', sans-serif" font-weight="900" font-size="10.5" fill="#000" text-anchor="middle">レベル1以下</text>
<rect x="782" y="82" width="198" height="226.6" fill="#fff" stroke="#000" stroke-width="1.8"/>
<line x1="818" x2="974.2" y1="95.5" y2="95.5" stroke="#404040" stroke-width="1"/>
<text x="803.8" y="99.0" font-size="10" fill="#595959" text-anchor="end">50%</text>
<line x1="818" x2="974.2" y1="113.7" y2="113.7" stroke="#8a8a8a" stroke-width="1"/>
<text x="803.8" y="117.2" font-size="10" fill="#595959" text-anchor="end">45%</text>
<line x1="818" x2="974.2" y1="130.3" y2="130.3" stroke="#6a6a6a" stroke-width="1"/>
<text x="803.8" y="133.8" font-size="10" fill="#595959" text-anchor="end">40%</text>
<line x1="818" x2="974.2" y1="147.5" y2="147.5" stroke="#404040" stroke-width="1"/>
<text x="803.8" y="151.0" font-size="10" fill="#595959" text-anchor="end">35%</text>
<line x1="818" x2="974.2" y1="164.5" y2="164.5" stroke="#404040" stroke-width="1"/>
<text x="803.8" y="168.0" font-size="10" fill="#595959" text-anchor="end">30%</text>
<line x1="818" x2="974.2" y1="181.7" y2="181.7" stroke="#707070" stroke-width="1"/>
<text x="803.8" y="185.2" font-size="10" fill="#595959" text-anchor="end">25%</text>
<line x1="818" x2="974.2" y1="199.9" y2="199.9" stroke="#606060" stroke-width="1"/>
<text x="803.8" y="203.4" font-size="10" fill="#595959" text-anchor="end">20%</text>
<line x1="818" x2="974.2" y1="217.5" y2="217.5" stroke="#404040" stroke-width="1"/>
<text x="803.8" y="221.0" font-size="10" fill="#595959" text-anchor="end">15%</text>
<line x1="818" x2="974.2" y1="233.5" y2="233.5" stroke="#707070" stroke-width="1"/>
<text x="803.8" y="237.0" font-size="10" fill="#595959" text-anchor="end">10%</text>
<line x1="818" x2="974.2" y1="251.5" y2="251.5" stroke="#8a8a8a" stroke-width="1"/>
<text x="803.8" y="255.0" font-size="10" fill="#595959" text-anchor="end">5%</text>
<line x1="818" x2="974.2" y1="268.5" y2="268.5" stroke="#d9d9d9" stroke-width="1"/>
<text x="803.8" y="272.0" font-size="10" fill="#595959" text-anchor="end">0%</text>
<rect x="819.30" y="229.8" width="8.55" height="38.20" fill="#2e75b6"/>
<line x1="817.85" x2="817.85" y1="268.2" y2="272.2" stroke="#d9d9d9" stroke-width="1"/>
<text transform="translate(827.15,281.8) rotate(-53)" font-size="10" fill="#595959" text-anchor="end">6/16</text>
<rect x="830.45" y="232.2" width="8.55" height="35.80" fill="#2e75b6"/>
<line x1="829.00" x2="829.00" y1="268.2" y2="272.2" stroke="#d9d9d9" stroke-width="1"/>
<text transform="translate(838.30,281.8) rotate(-53)" font-size="10" fill="#595959" text-anchor="end">6/17</text>
<rect x="841.60" y="232.5" width="8.55" height="35.50" fill="#2e75b6"/>
<line x1="840.15" x2="840.15" y1="268.2" y2="272.2" stroke="#d9d9d9" stroke-width="1"/>
<text transform="translate(849.45,281.8) rotate(-53)" font-size="10" fill="#595959" text-anchor="end">6/18</text>
<rect x="852.75" y="232.5" width="8.55" height="35.50" fill="#2e75b6"/>
<line x1="851.30" x2="851.30" y1="268.2" y2="272.2" stroke="#d9d9d9" stroke-width="1"/>
<text transform="translate(860.60,281.8) rotate(-53)" font-size="10" fill="#595959" text-anchor="end">6/19</text>
<rect x="863.90" y="231.1" width="8.55" height="36.90" fill="#2e75b6"/>
<line x1="862.45" x2="862.45" y1="268.2" y2="272.2" stroke="#d9d9d9" stroke-width="1"/>
<text transform="translate(871.75,281.8) rotate(-53)" font-size="10" fill="#595959" text-anchor="end">6/20</text>
<rect x="875.05" y="232.5" width="8.55" height="35.50" fill="#2e75b6"/>
<line x1="873.60" x2="873.60" y1="268.2" y2="272.2" stroke="#d9d9d9" stroke-width="1"/>
<text transform="translate(882.90,281.8) rotate(-53)" font-size="10" fill="#595959" text-anchor="end">6/21</text>
<rect x="886.20" y="232.8" width="8.55" height="35.20" fill="#2e75b6"/>
<line x1="884.75" x2="884.75" y1="268.2" y2="272.2" stroke="#d9d9d9" stroke-width="1"/>
<text transform="translate(894.05,281.8) rotate(-53)" font-size="10" fill="#595959" text-anchor="end">6/22</text>
<rect x="897.35" y="233.8" width="8.55" height="34.20" fill="#2e75b6"/>
<line x1="895.90" x2="895.90" y1="268.2" y2="272.2" stroke="#d9d9d9" stroke-width="1"/>
<text transform="translate(905.20,281.8) rotate(-53)" font-size="10" fill="#595959" text-anchor="end">6/23</text>
<rect x="908.50" y="233.6" width="8.55" height="34.40" fill="#2e75b6"/>
<line x1="907.05" x2="907.05" y1="268.2" y2="272.2" stroke="#d9d9d9" stroke-width="1"/>
<text transform="translate(916.35,281.8) rotate(-53)" font-size="10" fill="#595959" text-anchor="end">6/24</text>
<rect x="919.65" y="233.2" width="8.55" height="34.80" fill="#2e75b6"/>
<line x1="918.20" x2="918.20" y1="268.2" y2="272.2" stroke="#d9d9d9" stroke-width="1"/>
<text transform="translate(927.50,281.8) rotate(-53)" font-size="10" fill="#595959" text-anchor="end">6/25</text>
<rect x="930.80" y="232.4" width="8.55" height="35.60" fill="#2e75b6"/>
<line x1="929.35" x2="929.35" y1="268.2" y2="272.2" stroke="#d9d9d9" stroke-width="1"/>
<text transform="translate(938.65,281.8) rotate(-53)" font-size="10" fill="#595959" text-anchor="end">6/26</text>
<rect x="941.95" y="235.1" width="8.55" height="32.90" fill="#2e75b6"/>
<line x1="940.50" x2="940.50" y1="268.2" y2="272.2" stroke="#d9d9d9" stroke-width="1"/>
<text transform="translate(949.80,281.8) rotate(-53)" font-size="10" fill="#595959" text-anchor="end">6/27</text>
<rect x="953.10" y="233.2" width="8.55" height="34.80" fill="#2e75b6"/>
<line x1="951.65" x2="951.65" y1="268.2" y2="272.2" stroke="#d9d9d9" stroke-width="1"/>
<text transform="translate(960.95,281.8) rotate(-53)" font-size="10" fill="#595959" text-anchor="end">6/28</text>
<rect x="964.25" y="231.2" width="8.55" height="36.80" fill="#2e75b6"/>
<line x1="962.80" x2="962.80" y1="268.2" y2="272.2" stroke="#d9d9d9" stroke-width="1"/>
<text transform="translate(972.10,281.8) rotate(-53)" font-size="10" fill="#595959" text-anchor="end">6/29</text>
<line x1="974.2" x2="974.2" y1="268.2" y2="272.2" stroke="#d9d9d9" stroke-width="1"/>
<line x1="819.46" x2="973.4" y1="233.4" y2="233.4" stroke="#e41bd7" stroke-width="3" stroke-linecap="round" stroke-dasharray="4.0 6.18"/>
<line x1="819.36" x2="973.5" y1="251.5" y2="251.5" stroke="#ffc000" stroke-width="2.8" stroke-linecap="round" stroke-dasharray="4.2 5.98"/>
<line x1="771" x2="978.6" y1="653.2" y2="653.2" stroke="#c4c4c4" stroke-width="1.2"/>
<rect x="771.4" y="425.25" width="206.4" height="225.55" fill="#fff" stroke="#000" stroke-width="2"/>
<line x1="819.2" x2="972.4" y1="441.5" y2="441.5" stroke="#404040" stroke-width="1"/>
<text x="803.5" y="445.2" font-size="10.7" fill="#595959" text-anchor="end">100人</text>
<line x1="819.2" x2="972.4" y1="457.1" y2="457.1" stroke="#777" stroke-width="1"/>
<text x="803.5" y="460.8" font-size="10.7" fill="#595959" text-anchor="end">90人</text>
<line x1="819.2" x2="972.4" y1="474.4" y2="474.4" stroke="#b5b5b5" stroke-width="1"/>
<text x="803.5" y="478.1" font-size="10.7" fill="#595959" text-anchor="end">80人</text>
<line x1="819.2" x2="972.4" y1="490.4" y2="490.4" stroke="#404040" stroke-width="1"/>
<text x="803.5" y="494.1" font-size="10.7" fill="#595959" text-anchor="end">70人</text>
<line x1="819.2" x2="972.4" y1="507.0" y2="507.0" stroke="#777" stroke-width="1"/>
<text x="803.5" y="510.7" font-size="10.7" fill="#595959" text-anchor="end">60人</text>
<line x1="819.2" x2="972.4" y1="523.7" y2="523.7" stroke="#777" stroke-width="1"/>
<text x="803.5" y="527.4" font-size="10.7" fill="#595959" text-anchor="end">50人</text>
<line x1="819.2" x2="972.4" y1="541.5" y2="541.5" stroke="#404040" stroke-width="1"/>
<text x="803.5" y="545.2" font-size="10.7" fill="#595959" text-anchor="end">40人</text>
<line x1="819.2" x2="972.4" y1="557.8" y2="557.8" stroke="#777" stroke-width="1"/>
<text x="803.5" y="561.5" font-size="10.7" fill="#595959" text-anchor="end">30人</text>
<line x1="819.2" x2="972.4" y1="574.3" y2="574.3" stroke="#777" stroke-width="1"/>
<text x="803.5" y="578.0" font-size="10.7" fill="#595959" text-anchor="end">20人</text>
<line x1="819.2" x2="972.4" y1="590.8" y2="590.8" stroke="#777" stroke-width="1"/>
<text x="803.5" y="594.5" font-size="10.7" fill="#595959" text-anchor="end">10人</text>
<line x1="819.2" x2="972.4" y1="608" y2="608" stroke="#d9d9d9" stroke-width="1"/>
<text x="803.5" y="611.7" font-size="10.7" fill="#595959" text-anchor="end">0人</text>
<rect x="820.45" y="547.4" width="8.55" height="60.40" fill="#0070c0"/>
<text transform="translate(829.00,620.4) rotate(-50)" font-size="9.8" fill="#595959" text-anchor="end">6/16</text>
<rect x="831.37" y="550.75" width="8.55" height="57.05" fill="#0070c0"/>
<text transform="translate(839.91,620.4) rotate(-50)" font-size="9.8" fill="#595959" text-anchor="end">6/17</text>
<rect x="842.28" y="550.5" width="8.55" height="57.30" fill="#0070c0"/>
<text transform="translate(850.83,620.4) rotate(-50)" font-size="9.8" fill="#595959" text-anchor="end">6/18</text>
<rect x="853.20" y="551.1" width="8.55" height="56.70" fill="#0070c0"/>
<text transform="translate(861.75,620.4) rotate(-50)" font-size="9.8" fill="#595959" text-anchor="end">6/19</text>
<rect x="864.11" y="548.2" width="8.55" height="59.60" fill="#0070c0"/>
<text transform="translate(872.66,620.4) rotate(-50)" font-size="9.8" fill="#595959" text-anchor="end">6/20</text>
<rect x="875.03" y="550.1" width="8.55" height="57.70" fill="#0070c0"/>
<text transform="translate(883.58,620.4) rotate(-50)" font-size="9.8" fill="#595959" text-anchor="end">6/21</text>
<rect x="885.94" y="550.9" width="8.55" height="56.90" fill="#0070c0"/>
<text transform="translate(894.49,620.4) rotate(-50)" font-size="9.8" fill="#595959" text-anchor="end">6/22</text>
<rect x="896.86" y="553.9" width="8.55" height="53.90" fill="#0070c0"/>
<text transform="translate(905.40,620.4) rotate(-50)" font-size="9.8" fill="#595959" text-anchor="end">6/23</text>
<rect x="907.77" y="552" width="8.55" height="55.80" fill="#0070c0"/>
<text transform="translate(916.32,620.4) rotate(-50)" font-size="9.8" fill="#595959" text-anchor="end">6/24</text>
<rect x="918.69" y="554.6" width="8.55" height="53.20" fill="#0070c0"/>
<text transform="translate(927.24,620.4) rotate(-50)" font-size="9.8" fill="#595959" text-anchor="end">6/25</text>
<rect x="929.60" y="554.6" width="8.55" height="53.20" fill="#0070c0"/>
<text transform="translate(938.15,620.4) rotate(-50)" font-size="9.8" fill="#595959" text-anchor="end">6/26</text>
<rect x="940.51" y="559.1" width="8.55" height="48.70" fill="#0070c0"/>
<text transform="translate(949.06,620.4) rotate(-50)" font-size="9.8" fill="#595959" text-anchor="end">6/27</text>
<rect x="951.43" y="560.2" width="8.55" height="47.60" fill="#0070c0"/>
<text transform="translate(959.98,620.4) rotate(-50)" font-size="9.8" fill="#595959" text-anchor="end">6/28</text>
<rect x="962.35" y="566.1" width="8.55" height="41.70" fill="#0070c0"/>
<text transform="translate(970.89,620.4) rotate(-50)" font-size="9.8" fill="#595959" text-anchor="end">6/29</text>
<line x1="820.55" x2="971.3" y1="566.5" y2="566.5" stroke="#e41bd7" stroke-width="3" stroke-linecap="round" stroke-dasharray="3.5 6.6"/>
<line x1="820.45" x2="971.4" y1="583.1" y2="583.1" stroke="#ffc000" stroke-width="2.8" stroke-linecap="round" stroke-dasharray="3.7 6.4"/>
</svg>
<div class="box" style="top:46px;height:36px;line-height:36px"><span style="margin-left:27.4px">検査陽性率（直近1週間）</span></div>
<div class="box" style="top:381.1px;height:35.2px;padding-top:.5px;line-height:18.5px;overflow:hidden"><span style="margin-left:1.8px;position:relative;top:-1px">人口10万人あたりの</span>
<span style="margin-left:36.2px">新規感染者数（直近1週間）</span></div>

<div class="t" style="left:359.3px;top:49.6px">6月23日~</div>
<div class="t" style="left:431.6px;top:49.6px">6月29日</div>
<div class="t" style="left:480px;top:49.6px;width:60.8px;text-align:right">10.5%</div>
<div class="hl" style="top:66px"></div>
<div class="t w3" style="left:353px;top:69.2px">過去最大値（直近日）</div>
<div class="t" style="left:480px;top:70.3px;width:60.8px;text-align:right;height:9.5px;overflow:hidden">49.0%</div>
<div class="hl" style="top:84px"></div>
<div class="t p" style="left:556px;top:69px">（令和4年2月12日<span style="margin-left:9.2px">~</span><span style="margin-left:14.6px">2月18日）</span></div>

<div class="t" style="left:359.3px;top:384.6px">6月23日~</div>
<div class="t" style="left:431.6px;top:384.6px">6月29日</div>
<div class="t" style="left:480px;top:384.6px;width:60.8px;text-align:right">25.3人</div>
<div class="hl" style="top:401px"></div>
<div class="t w3" style="left:353px;top:404.6px">過去最大値（直近日）</div>
<div class="t" style="left:480px;top:404.8px;width:60.8px;text-align:right">302.6人</div>
<div class="hl" style="top:419px"></div>
<div class="t p" style="left:556px;top:404.4px">（令和4年2月12日<span style="margin-left:9.2px">~</span><span style="margin-left:14.6px">2月18日）</span></div>

<div class="lab" style="left:813px;top:51px;width:131.5px;height:24px;line-height:25px">直近2週間の推移</div>
<div class="lab" style="left:814.5px;top:398.2px;width:131.4px;height:22.6px;line-height:24.4px">直近2週間の推移</div>
<div class="note">※陽性率は民間の検査結果により後日変動する。</div>
</body></html>
